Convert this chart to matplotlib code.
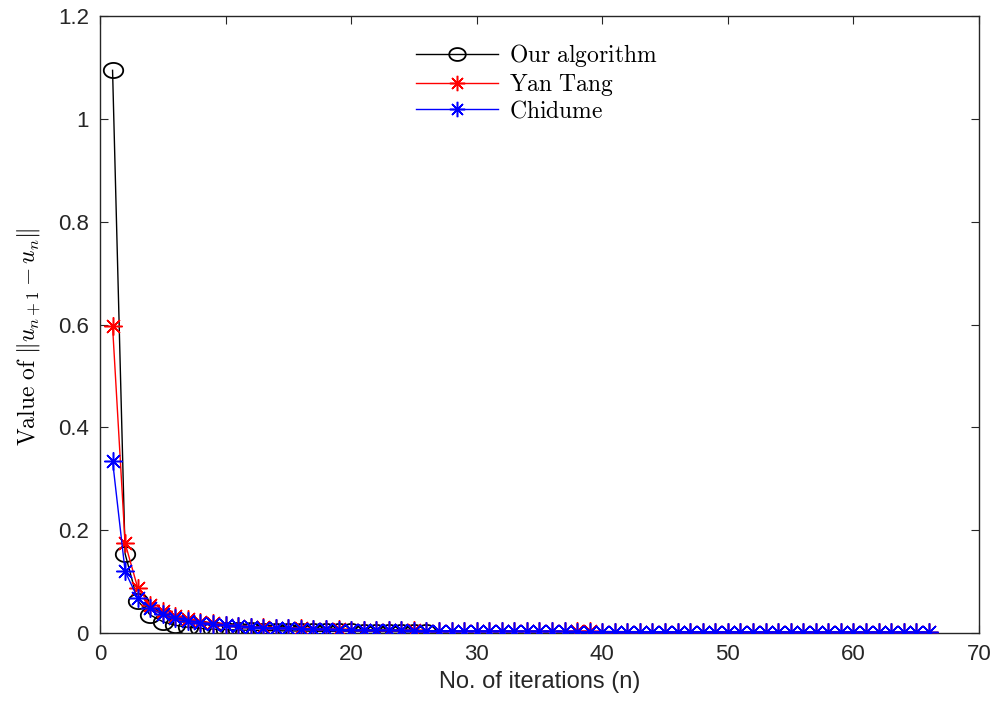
import numpy as np
import matplotlib
matplotlib.use("Agg")
import matplotlib.pyplot as plt
from matplotlib.path import Path

plt.rcParams['mathtext.fontset'] = 'cm'
plt.rcParams['font.family'] = ['Liberation Sans', 'DejaVu Sans']

# Data
ours = [1.095, 0.154, 0.063, 0.035, 0.022, 0.015, 0.011, 0.009, 0.0075, 0.0065,
        0.0058, 0.0052, 0.0047, 0.0043, 0.0040, 0.0037, 0.0035, 0.0033, 0.0031, 0.0030,
        0.0028, 0.0027, 0.0026, 0.0025, 0.0024, 0.0023]
yantang = [0.597, 0.175, 0.088, 0.055, 0.042, 0.033, 0.027, 0.022, 0.019, 0.016,
           0.014, 0.0125, 0.0112, 0.0102, 0.0094, 0.0087, 0.0081, 0.0075, 0.0070, 0.0066,
           0.0062, 0.0058, 0.0055, 0.0052, 0.0049, 0.0046, 0.0044, 0.0042, 0.0040, 0.0038,
           0.0037, 0.0036, 0.0034, 0.0033, 0.0032, 0.0031, 0.0030, 0.0029, 0.0029, 0.0028,
           0.0027, 0.0026, 0.0026, 0.0025, 0.0024, 0.0024, 0.0023, 0.0023, 0.0022, 0.0022,
           0.0021, 0.0021, 0.0020, 0.0020, 0.0019, 0.0019, 0.0019, 0.0018, 0.0018, 0.0018,
           0.0017, 0.0017, 0.0017, 0.0016, 0.0016, 0.0016]
chidume = [0.335, 0.120, 0.068, 0.048, 0.036, 0.029, 0.024, 0.020, 0.017, 0.015,
           0.013, 0.0118, 0.0106, 0.0097, 0.0089, 0.0082, 0.0076, 0.0071, 0.0066, 0.0062,
           0.0058, 0.0055, 0.0052, 0.0049, 0.0047, 0.0045, 0.0043, 0.0041, 0.0039, 0.0037,
           0.0036, 0.0035, 0.0033, 0.0032, 0.0031, 0.0030, 0.0029, 0.0028, 0.0028, 0.0027,
           0.0026, 0.0025, 0.0025, 0.0024, 0.0023, 0.0023, 0.0022, 0.0022, 0.0021, 0.0021,
           0.0020, 0.0020, 0.0019, 0.0019, 0.0018, 0.0018, 0.0018, 0.0017, 0.0017, 0.0017,
           0.0016, 0.0016, 0.0016, 0.0015, 0.0015, 0.0015]

n_ours = np.arange(1, len(ours) + 1)
n_yt = np.arange(1, len(yantang) + 1)
n_ch = np.arange(1, len(chidume) + 1)

# elliptical circle marker (wider than tall)
t = np.linspace(0, 2 * np.pi, 60)
ell = Path(np.column_stack([np.cos(t), 0.78 * np.sin(t)]), closed=True)

fig = plt.figure(figsize=(9.96, 7.12), dpi=100)
ax = fig.add_axes([0.1004, 0.111, 0.8825, 0.866])

ax.plot(n_ours, ours, color='black', lw=1.0, marker=ell, markersize=14,
        markerfacecolor='none', markeredgecolor='black', markeredgewidth=1.3,
        label=r'$\mathrm{Our\ algorithm}$', zorder=2)
ax.plot(n_yt, yantang, color='red', lw=1.0, marker=(8, 2, 0), markersize=13,
        markeredgewidth=1.1, label=r'$\mathrm{Yan\ Tang}$', zorder=3)
ax.plot(n_ch, chidume, color='blue', lw=1.0, marker=(8, 2, 0), markersize=13,
        markeredgewidth=1.1, label=r'$\mathrm{Chidume}$', zorder=4)

ax.set_xlim(0, 70)
ax.set_ylim(0, 1.2)
ax.set_xticks(np.arange(0, 71, 10))
ax.set_yticks([0, 0.2, 0.4, 0.6, 0.8, 1.0, 1.2])
ax.set_yticklabels(['0', '0.2', '0.4', '0.6', '0.8', '1', '1.2'])
ax.tick_params(direction='in', top=True, right=True, labelsize=16, length=6,
               width=0.8, colors='#262626', pad=8)
for s in ax.spines.values():
    s.set_linewidth(1.0)
    s.set_color('#262626')

ax.set_xlabel('No. of iterations (n)', fontsize=17, color='#262626', labelpad=4)
ax.set_ylabel(r'$\mathrm{Value\ of}\ \|u_{n+1}-u_n\|$', fontsize=17)
ax.yaxis.set_label_coords(-0.066, 0.48)

leg = ax.legend(loc='upper center', bbox_to_anchor=(0.497, 0.993), frameon=False,
                fontsize=17, handlelength=3.5, handletextpad=0.45, labelspacing=0.12,
                markerscale=0.85)

fig.savefig('out.png', dpi=100)
